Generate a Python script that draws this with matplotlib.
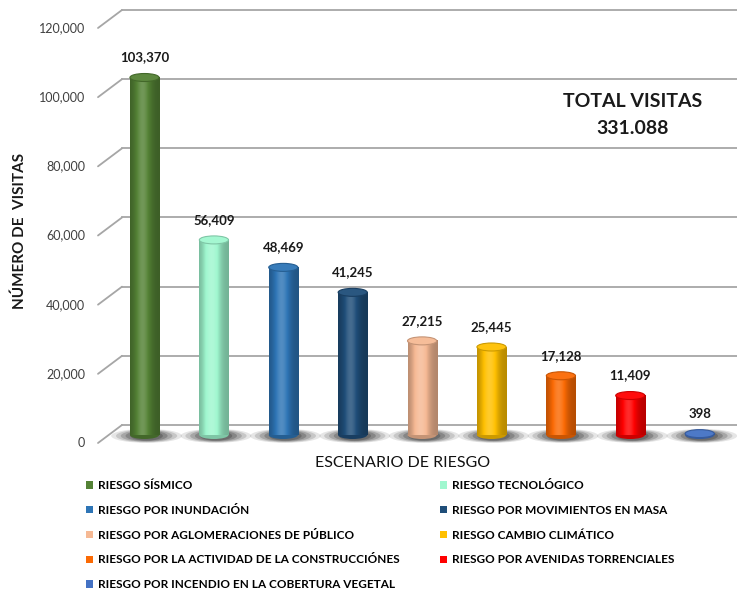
import numpy as np
import matplotlib
matplotlib.use("Agg")
import matplotlib.pyplot as plt
from matplotlib.patches import Ellipse, Patch
from matplotlib.transforms import ScaledTranslation
from matplotlib.colors import to_rgb

plt.rcParams['font.family'] = ['Lato', 'DejaVu Sans']

# data
categories = [
    "RIESGO SÍSMICO",
    "RIESGO TECNOLÓGICO",
    "RIESGO POR INUNDACIÓN",
    "RIESGO POR MOVIMIENTOS EN MASA",
    "RIESGO POR AGLOMERACIONES DE PÚBLICO",
    "RIESGO CAMBIO CLIMÁTICO",
    "RIESGO POR LA ACTIVIDAD DE LA CONSTRUCCIÓNES",
    "RIESGO POR AVENIDAS TORRENCIALES",
    "RIESGO POR INCENDIO EN LA COBERTURA VEGETAL",
]
visitas = [103370, 56409, 48469, 41245, 27215, 25445, 17128, 11409, 398]
colores = ["#548235", "#9ff7cf", "#2e75b6", "#1f4e79", "#f6b994",
           "#ffc000", "#fb6a04", "#ff0000", "#4472c4"]
y_ticks = [0, 20000, 40000, 60000, 80000, 100000, 120000]
total_text = "TOTAL VISITAS\n331.088"


def shade(color, f):
    c = np.array(to_rgb(color))
    if f <= 1:
        return c * f
    return c + (1 - c) * (f - 1)


W, H, DPI = 737, 593, 100
fig = plt.figure(figsize=(W / DPI, H / DPI), dpi=DPI)

# main axes: bar baseline at y=435px, 120k at y=20px
ax = fig.add_axes([122 / W, (H - 435) / H, (W - 122) / W, 415 / H])
ax.set_axis_off()

xs = np.arange(len(visitas))
bar_w = 0.42
px_x = 69.4            # pixels per category
px_y = 415 / 120000    # pixels per visit
ell_h = 8 / px_y       # height of the cylinder caps in data units

# back wall gridlines and the diagonal tick lines to the front labels
back = ax.get_yaxis_transform() + ScaledTranslation(0, 10 / DPI, fig.dpi_scale_trans)
front = ax.get_yaxis_transform() + ScaledTranslation(-37 / DPI, -8 / DPI, fig.dpi_scale_trans)
for v in y_ticks:
    ax.plot([0, 1], [v, v], transform=back, color="#a6a6a6", lw=1.3,
            clip_on=False, zorder=1)
    ax.annotate("", xy=(0, v), xycoords=back, xytext=(-24, -18),
                textcoords="offset pixels",
                arrowprops=dict(arrowstyle="-", color="#a6a6a6", lw=1.3,
                                shrinkA=0, shrinkB=0))
    ax.text(0, v, f"{v:,}", transform=front, ha="right", va="center",
            fontsize=9, color="#404040")

# floor shadows (stacked soft ellipses)
for x in xs:
    for k, a in zip([1.0, 0.85, 0.7, 0.55, 0.4], [0.12, 0.17, 0.22, 0.27, 0.32]):
        ax.add_patch(Ellipse((x + 0.03, -250), 0.92 * k + 0.1, (14 / px_y) * (0.45 + 0.55 * k),
                             facecolor="#333333", edgecolor="none", alpha=a,
                             clip_on=False, zorder=2))

# cylinders
ax.bar(xs, visitas, width=bar_w, color=colores, zorder=3)
t = np.linspace(0, 1, 60)
profile = 0.72 + 0.45 * np.exp(-((t - 0.42) / 0.28) ** 2)
for x, v, c in zip(xs, visitas, colores):
    grad = np.array([[np.clip(shade(c, f), 0, 1) for f in profile]])
    ax.add_patch(Ellipse((x, 0), bar_w, ell_h, facecolor=shade(c, 0.8),
                         edgecolor="none", clip_on=False, zorder=3))
    ax.imshow(grad, extent=(x - bar_w / 2, x + bar_w / 2, 0, v), aspect="auto",
              interpolation="bilinear", zorder=4)
    ax.add_patch(Ellipse((x, v), bar_w, ell_h, facecolor=shade(c, 1.05),
                         edgecolor=shade(c, 0.8), lw=0.8, clip_on=False, zorder=5))
    ax.annotate(f"{v:,}", (x, v), xytext=(0, 20), textcoords="offset pixels",
                ha="center", va="center", fontsize=9.5, fontweight="bold",
                color="#1a1a1a", zorder=6)

ax.set_xlim(-22.5 / px_x, -22.5 / px_x + (W - 122) / px_x)
ax.set_ylim(0, 120000)

# titles
fig.text(20 / W, 1 - 231 / H, "NÚMERO DE  VISITAS", rotation=90, ha="center",
         va="center", fontsize=11, fontweight="bold", color="#1a1a1a")
fig.text(403 / W, 1 - 463 / H, "ESCENARIO DE RIESGO", ha="center", va="center",
         fontsize=11.5, color="#111111")
fig.text(633 / W, 1 - 115 / H, total_text, ha="center", va="center",
         fontsize=14, fontweight="bold", color="#1a1a1a", linespacing=1.65)

# legend in two columns, row-major order as in the original
handles = [Patch(facecolor=c, label=n) for n, c in zip(categories, colores)]
leg_kw = dict(loc="upper left", frameon=False,
              prop=dict(weight="bold", size=8.5), handlelength=0.6,
              handleheight=0.6, handletextpad=0.4, labelspacing=1.17,
              borderpad=0, borderaxespad=0)
fig.legend(handles=handles[0::2], bbox_to_anchor=(86 / W, 1 - 480 / H), **leg_kw)
fig.legend(handles=handles[1::2], bbox_to_anchor=(440 / W, 1 - 480 / H), **leg_kw)

fig.savefig("out.png", dpi=DPI)
